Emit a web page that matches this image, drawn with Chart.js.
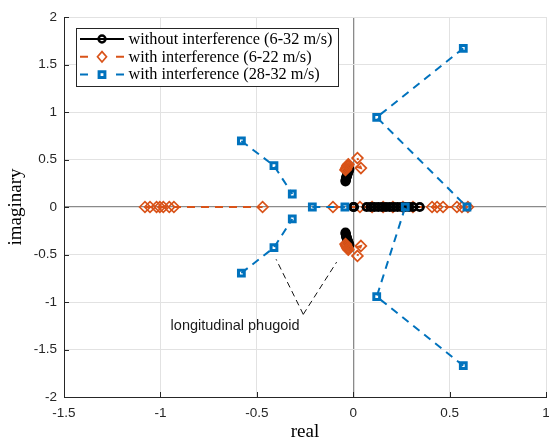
<!DOCTYPE html>
<html>
<head>
<meta charset="utf-8">
<script src="https://cdn.jsdelivr.net/npm/chart.js@4/dist/chart.umd.min.js"></script>
<style>
  html, body { margin: 0; padding: 0; background: #fff; }
  canvas { display: block; }
</style>
</head>
<body>
<canvas id="rootLocusChart" width="549" height="443"></canvas>
<script>
// axis ticks
const realTicks = [-1.5, -1, -0.5, 0, 0.5, 1];
const imagTicks = [-2, -1.5, -1, -0.5, 0, 0.5, 1, 1.5, 2];

// without interference (6-32 m/s)
const noIntUpperX = [-0.040, -0.039, -0.038, -0.037, -0.036, -0.034, -0.033, -0.031, -0.030, -0.028, -0.026, -0.024, -0.022, -0.020];
const noIntUpperY = [0.27, 0.28, 0.29, 0.30, 0.31, 0.32, 0.33, 0.34, 0.35, 0.36, 0.37, 0.38, 0.39, 0.40];
const noIntLowerX = [-0.040, -0.039, -0.038, -0.037, -0.036, -0.034, -0.033, -0.031, -0.030, -0.028, -0.026, -0.024, -0.022, -0.020];
const noIntLowerY = [-0.27, -0.28, -0.29, -0.30, -0.31, -0.32, -0.33, -0.34, -0.35, -0.36, -0.37, -0.38, -0.39, -0.40];
const noIntRealAX = [0.0, 0.004];
const noIntRealAY = [0, 0];
const noIntRealBX = [0.07, 0.09, 0.11, 0.13, 0.15, 0.17, 0.19, 0.21, 0.23, 0.25, 0.27, 0.29, 0.31, 0.345];
const noIntRealBY = [0, 0, 0, 0, 0, 0, 0, 0, 0, 0, 0, 0, 0, 0];

// with interference (6-22 m/s)
const intLeftX = [-1.08, -1.054, -1.02, -1.003, -0.985, -0.954, -0.93, -0.47];
const intLeftY = [0, 0, 0, 0, 0, 0, 0, 0];
const intRealX = [-0.105, 0.035, 0.098, 0.155, 0.206, 0.258, 0.31, 0.409, 0.435, 0.466, 0.538, 0.564, 0.595];
const intRealY = [0, 0, 0, 0, 0, 0, 0, 0, 0, 0, 0, 0, 0];
const intUpperX = [-0.040, -0.037, -0.034, -0.031, -0.028, -0.025, 0.040, 0.022];
const intUpperY = [0.39, 0.40, 0.415, 0.43, 0.44, 0.45, 0.41, 0.515];
const intLowerX = [-0.040, -0.037, -0.034, -0.031, -0.028, -0.025, 0.040, 0.022];
const intLowerY = [-0.39, -0.40, -0.415, -0.43, -0.44, -0.45, -0.41, -0.515];

// with interference (28-32 m/s)
const hiUpperRightX = [0.571, 0.122, 0.59];
const hiUpperRightY = [1.67, 0.944, 0];
const hiLowerRightX = [0.571, 0.122, 0.27];
const hiLowerRightY = [-1.67, -0.944, 0];
const hiUpperLeftX = [-0.58, -0.411, -0.316];
const hiUpperLeftY = [0.695, 0.435, 0.137];
const hiLowerLeftX = [-0.58, -0.411, -0.316];
const hiLowerLeftY = [-0.695, -0.428, -0.126];
const hiRealX = [-0.212, -0.043];
const hiRealY = [0, 0];

// phugoid annotation
const phugoidLeftX = [-0.259, -0.40];
const phugoidLeftY = [-1.13, -0.55];
const phugoidRightX = [-0.259, -0.086];
const phugoidRightY = [-1.13, -0.58];
const phugoidLabel = 'longitudinal phugoid';
const phugoidLabelX = -0.947;
const phugoidLabelY = -1.253;

const legendLabels = ['without interference (6-32 m/s)', 'with interference (6-22 m/s)', 'with interference (28-32 m/s)'];

const black = '#000000';
const orange = '#D95319';
const blue = '#0072BD';

function pts(xs, ys) {
    return xs.map(function (x, i) { return {x: x, y: ys[i]}; });
}

function noIntSet(xs, ys, order) {
    return {
        data: pts(xs, ys), showLine: true, order: order,
        borderColor: black, borderWidth: 2,
        pointStyle: 'circle', pointRadius: 3.7, pointBorderWidth: 2.8,
        pointBorderColor: black, pointBackgroundColor: 'rgba(0,0,0,0)'
    };
}

function intSet(xs, ys, order) {
    return {
        data: pts(xs, ys), showLine: true, order: order,
        borderColor: orange, borderWidth: 2, borderDash: [8, 6],
        pointStyle: 'rectRot', pointRadius: 5.4, pointBorderWidth: 1.7,
        pointBorderColor: orange, pointBackgroundColor: 'rgba(0,0,0,0)'
    };
}

function hiSet(xs, ys, order) {
    return {
        data: pts(xs, ys), showLine: true, order: order,
        borderColor: blue, borderWidth: 2, borderDash: [8, 6],
        pointStyle: 'rect', pointRadius: 4.1, pointBorderWidth: 3,
        pointBorderColor: blue, pointBackgroundColor: 'rgba(0,0,0,0)'
    };
}

function noteSet(xs, ys) {
    return {
        data: pts(xs, ys), showLine: true, order: 9,
        borderColor: '#111', borderWidth: 1, borderDash: [6, 4],
        pointRadius: 0
    };
}

// inward tick marks like matlab
const inwardTicks = {
    id: 'inwardTicks',
    afterDatasetsDraw(chart) {
        const ctx = chart.ctx, a = chart.chartArea;
        const xs = chart.scales.x, ys = chart.scales.y;
        ctx.save();
        ctx.strokeStyle = '#262626';
        ctx.lineWidth = 1;
        ctx.beginPath();
        realTicks.forEach(function (v) {
            const px = Math.round(xs.getPixelForValue(v)) + 0.5;
            ctx.moveTo(px, a.bottom);
            ctx.lineTo(px, a.bottom - 5);
        });
        imagTicks.forEach(function (v) {
            const py = Math.round(ys.getPixelForValue(v)) + 0.5;
            ctx.moveTo(a.left, py);
            ctx.lineTo(a.left + 5, py);
        });
        ctx.stroke();

        ctx.fillStyle = '#1a1a1a';
        ctx.font = '14.5px "Liberation Sans", Arial, sans-serif';
        ctx.textAlign = 'left';
        ctx.textBaseline = 'middle';
        ctx.fillText(phugoidLabel, xs.getPixelForValue(phugoidLabelX), ys.getPixelForValue(phugoidLabelY));
        ctx.restore();
    }
};

// legend box with line + marker samples
const matlabLegend = {
    id: 'matlabLegend',
    afterDraw(chart) {
        const ctx = chart.ctx;
        ctx.save();
        ctx.fillStyle = '#ffffff';
        ctx.fillRect(76.5, 28.5, 262, 58);
        ctx.strokeStyle = '#262626';
        ctx.lineWidth = 1;
        ctx.strokeRect(76.5, 28.5, 262, 58);

        const colors = [black, orange, blue];
        legendLabels.forEach(function (label, i) {
            const y = 39 + i * 17.8;
            ctx.strokeStyle = colors[i];
            ctx.lineWidth = 2;
            ctx.beginPath();
            if (i === 0) {
                ctx.moveTo(80, y); ctx.lineTo(124, y);
            } else {
                ctx.moveTo(80, y); ctx.lineTo(88, y);
                ctx.moveTo(116, y); ctx.lineTo(124, y);
            }
            ctx.stroke();
            ctx.beginPath();
            if (i === 0) {
                ctx.lineWidth = 2.5;
                ctx.arc(102, y, 3.4, 0, Math.PI * 2);
            } else if (i === 1) {
                ctx.lineWidth = 1.7;
                ctx.moveTo(102, y - 5.2); ctx.lineTo(106.5, y); ctx.lineTo(102, y + 5.2); ctx.lineTo(97.5, y);
                ctx.closePath();
            } else {
                ctx.lineWidth = 3;
                ctx.rect(99.1, y - 2.9, 5.8, 5.8);
            }
            ctx.stroke();
            ctx.fillStyle = '#000';
            ctx.font = '16.3px "Liberation Serif", "Times New Roman", serif';
            ctx.textAlign = 'left';
            ctx.textBaseline = 'middle';
            ctx.fillText(label, 128.5, y + 0.5);
        });
        ctx.restore();
    }
};

function gridColor(c) {
    return c.tick && c.tick.value === 0 ? '#8a8a8a' : '#e2e2e2';
}
function gridWidth(c) {
    return c.tick && c.tick.value === 0 ? 1.3 : 1;
}
function plainLabel(v) {
    return String(v);
}

Chart.defaults.font.family = '"Liberation Sans", Arial, sans-serif';
Chart.defaults.color = '#262626';

new Chart(document.getElementById('rootLocusChart'), {
    type: 'scatter',
    data: {
        datasets: [
            hiSet(hiUpperRightX, hiUpperRightY, 0),
            hiSet(hiLowerRightX, hiLowerRightY, 0),
            hiSet(hiUpperLeftX, hiUpperLeftY, 0),
            hiSet(hiLowerLeftX, hiLowerLeftY, 0),
            hiSet(hiRealX, hiRealY, 0),
            intSet(intUpperX, intUpperY, 1),
            intSet(intLowerX, intLowerY, 1),
            noIntSet(noIntUpperX, noIntUpperY, 2),
            noIntSet(noIntLowerX, noIntLowerY, 2),
            noIntSet(noIntRealAX, noIntRealAY, 2),
            noIntSet(noIntRealBX, noIntRealBY, 2),
            intSet(intLeftX, intLeftY, 3),
            intSet(intRealX, intRealY, 3),
            noteSet(phugoidLeftX, phugoidLeftY),
            noteSet(phugoidRightX, phugoidRightY)
        ]
    },
    options: {
        responsive: false,
        animation: false,
        devicePixelRatio: 1,
        layout: {autoPadding: false, padding: {top: 17, right: 3, left: 0, bottom: 0}},
        plugins: {
            legend: {display: false},
            tooltip: {enabled: false}
        },
        elements: {line: {tension: 0}},
        scales: {
            x: {
                type: 'linear', min: -1.5, max: 1,
                afterBuildTicks: function (s) { s.ticks = realTicks.map(function (v) { return {value: v}; }); },
                afterFit: function (s) { s.height = 46; s.paddingLeft = 0; s.paddingRight = 0; },
                ticks: {padding: 8, font: {size: 13.5}, color: '#262626', callback: plainLabel},
                grid: {color: gridColor, lineWidth: gridWidth, drawTicks: false},
                border: {display: true, color: '#262626', width: 1},
                title: {display: true, text: 'real', color: '#000', padding: {top: 0, bottom: 0},
                    font: {family: '"Liberation Serif", "Times New Roman", serif', size: 19}}
            },
            y: {
                type: 'linear', min: -2, max: 2,
                afterBuildTicks: function (s) { s.ticks = imagTicks.map(function (v) { return {value: v}; }); },
                afterFit: function (s) { s.width = 64; s.paddingTop = 0; s.paddingBottom = 0; },
                ticks: {padding: 7, font: {size: 13.5}, color: '#262626', callback: plainLabel},
                grid: {color: gridColor, lineWidth: gridWidth, drawTicks: false},
                border: {display: true, color: '#262626', width: 1},
                title: {display: true, text: 'imaginary', color: '#000', padding: {top: 5, bottom: 0},
                    font: {family: '"Liberation Serif", "Times New Roman", serif', size: 19}}
            }
        }
    },
    plugins: [inwardTicks, matlabLegend]
});
</script>
</body>
</html>
